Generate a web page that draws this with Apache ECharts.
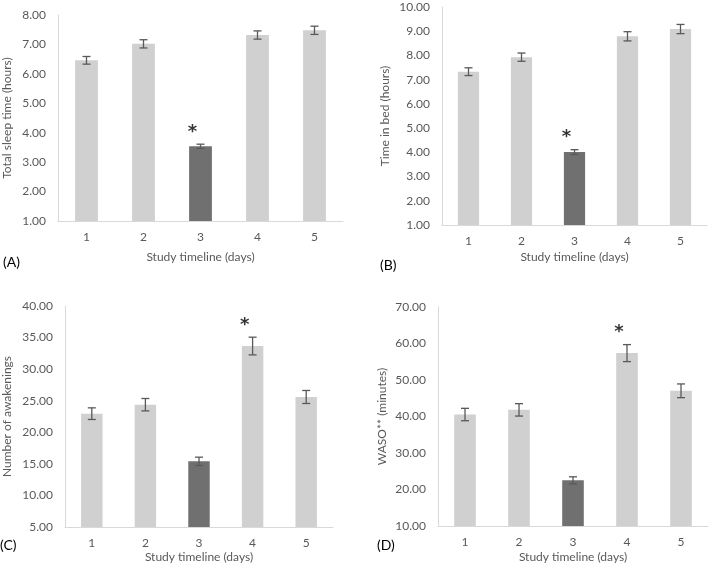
<!DOCTYPE html>
<html>
<head>
<meta charset="utf-8">
<script src="https://cdn.jsdelivr.net/npm/echarts@6/dist/echarts.min.js"></script>
<style>
  html, body { margin: 0; padding: 0; background: #fff; }
  #main { width: 709px; height: 565px; }
</style>
</head>
<body>
<div id="main"></div>
<script>
  // data
  const days = ['1', '2', '3', '4', '5'];
  const sleepTime = [6.46, 7.02, 3.54, 7.32, 7.48];
  const sleepErr = [0.13, 0.14, 0.07, 0.14, 0.14];
  const bedTime = [7.33, 7.93, 4.01, 8.79, 9.09];
  const bedErr = [0.16, 0.17, 0.10, 0.19, 0.19];
  const awakenings = [22.95, 24.37, 15.40, 33.66, 25.59];
  const awakeErr = [0.92, 0.98, 0.66, 1.40, 1.03];
  const waso = [40.54, 41.82, 22.52, 57.37, 47.04];
  const wasoErr = [1.70, 1.70, 0.96, 2.33, 1.88];
  const darkDay = [2, 2, 2, 2];      // index of the dark bar in each panel
  const starDay = [2, 2, 3, 3];      // index of the bar with asterisk

  const panels = [
    {tag: '(A)', yName: 'Total sleep time (hours)', vals: sleepTime, err: sleepErr, min: 1, max: 8, step: 1,
      grid: {left: 53, top: 15, width: 290, height: 206}, yGap: 45, xGap: 30, tagPos: [3, 255]},
    {tag: '(B)', yName: 'Time in bed (hours)', vals: bedTime, err: bedErr, min: 1, max: 10, step: 1,
      grid: {left: 442, top: 7, width: 265, height: 218}, yGap: 51, xGap: 26, tagPos: [380, 258]},
    {tag: '(C)', yName: 'Number of awakenings', vals: awakenings, err: awakeErr, min: 5, max: 40, step: 5,
      grid: {left: 60, top: 306, width: 273, height: 221}, yGap: 52, xGap: 24, tagPos: [0, 538]},
    {tag: '(D)', yName: 'WASO** (minutes)', vals: waso, err: wasoErr, min: 10, max: 70, step: 10,
      grid: {left: 438, top: 307, width: 270, height: 219}, yGap: 50, xGap: 25, tagPos: [377, 538]}
  ];

  const txt = '#595959';
  const font = 'Lato, "Open Sans", sans-serif';

  let grid = [], xAxis = [], yAxis = [], series = [], graphic = [];

  panels.forEach(function (p, i) {
    grid.push(p.grid);
    xAxis.push({
      type: 'category', gridIndex: i, data: days,
      name: 'Study timeline (days)', nameLocation: 'middle', nameGap: p.xGap,
      nameTextStyle: {color: txt, fontSize: 12, fontFamily: font},
      axisLine: {lineStyle: {color: '#d9d9d9', width: 1}},
      axisTick: {show: false},
      axisLabel: {color: txt, fontSize: 12, fontFamily: font, margin: 10}
    });
    yAxis.push({
      type: 'value', gridIndex: i, min: p.min, max: p.max, interval: p.step,
      name: p.yName, nameLocation: 'middle', nameGap: p.yGap, nameRotate: 90,
      nameTextStyle: {color: txt, fontSize: 12, fontFamily: font},
      axisLine: {show: true, lineStyle: {color: '#d9d9d9', width: 1}},
      axisTick: {show: false},
      splitLine: {show: false},
      axisLabel: {color: txt, fontSize: 12, fontFamily: font, margin: 12,
        formatter: function (v) { return v.toFixed(2); }}
    });
    series.push({
      type: 'bar', xAxisIndex: i, yAxisIndex: i, barWidth: '40%',
      data: p.vals.map(function (v, k) {
        return {value: v, itemStyle: {color: k === darkDay[i] ? '#707070' : '#d0d0d0'}};
      })
    });
    series.push({
      type: 'custom', xAxisIndex: i, yAxisIndex: i, z: 5,
      data: p.vals.map(function (v, k) { return [k, v - p.err[k], v + p.err[k]]; }),
      renderItem: function (params, api) {
        const lo = api.coord([api.value(0), api.value(1)]);
        const hi = api.coord([api.value(0), api.value(2)]);
        const w = 4;
        const st = {stroke: '#595959', lineWidth: 1.3};
        return {type: 'group', children: [
          {type: 'line', shape: {x1: lo[0], y1: lo[1], x2: hi[0], y2: hi[1]}, style: st},
          {type: 'line', shape: {x1: lo[0] - w, y1: lo[1], x2: lo[0] + w, y2: lo[1]}, style: st},
          {type: 'line', shape: {x1: hi[0] - w, y1: hi[1], x2: hi[0] + w, y2: hi[1]}, style: st}
        ]};
      }
    });
    const s = starDay[i];
    series.push({
      type: 'scatter', xAxisIndex: i, yAxisIndex: i, symbol: 'circle', symbolSize: 1, silent: true, z: 6,
      itemStyle: {color: 'rgba(0,0,0,0)'},
      data: [[s, p.vals[s] + p.err[s]]],
      label: {show: true, formatter: '*', position: 'inside', offset: [-8, -12],
        color: '#000', fontSize: 18, fontWeight: 'bold', fontFamily: 'DejaVu Sans'}
    });
    graphic.push({type: 'text', left: p.tagPos[0], top: p.tagPos[1],
      style: {text: p.tag, fill: '#000', fontSize: 14, fontFamily: font}});
  });

  const chart = echarts.init(document.getElementById('main'));
  chart.setOption({
    animation: false,
    grid: grid, xAxis: xAxis, yAxis: yAxis, series: series, graphic: graphic
  });
</script>
</body>
</html>
